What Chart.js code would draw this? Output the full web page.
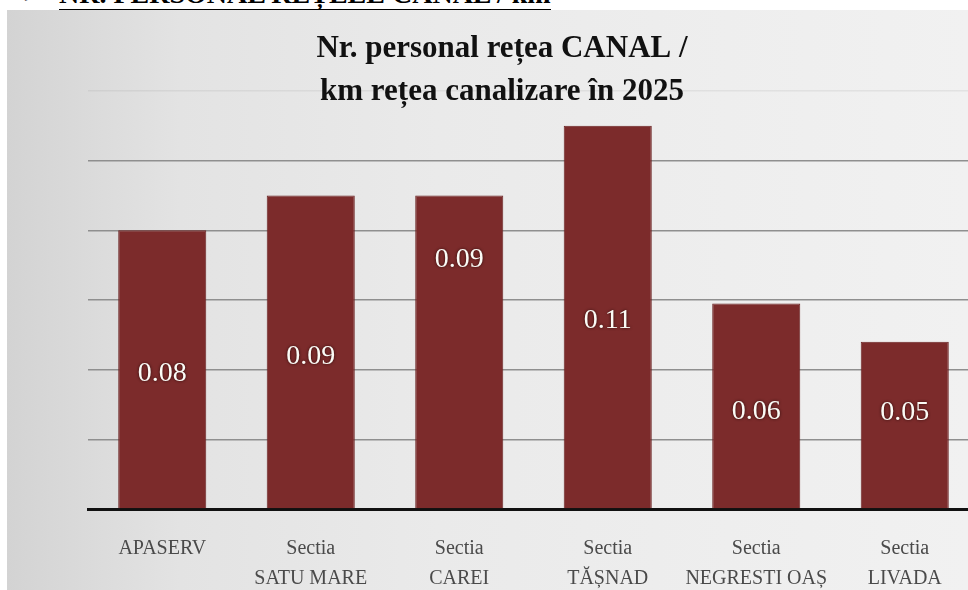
<!DOCTYPE html>
<html>
<head>
<meta charset="utf-8">
<script src="https://cdn.jsdelivr.net/npm/chart.js@4.4.1/dist/chart.umd.min.js"></script>
<style>
  html, body { margin: 0; padding: 0; background: #fff; width: 968px; height: 590px; overflow: hidden; }
  #heading {
    position: absolute; left: 22px; top: -23px; height: 26px; line-height: 26px;
    font: bold 28px "Liberation Serif", serif; color: #000; white-space: nowrap;
  }
  #heading span { border-bottom: 2.5px solid #000; margin-left: 14px; }
  #panel {
    position: absolute; left: 7px; top: 10px; width: 961px; height: 580px;
    background: linear-gradient(to right, #d3d3d3 0%, #e3e3e3 18%, #eaeaea 45%, #eeeeee 75%, #f1f1f1 100%);
  }
  #wrap { position: absolute; left: 0; top: 0; width: 990px; height: 619px; }
</style>
</head>
<body>
<div id="heading">&#10146;<span>NR. PERSONAL REȚELE CANAL / km</span></div>
<div id="panel"></div>
<div id="wrap"><canvas id="chart" width="990" height="619"></canvas></div>
<script>
// categories (multi-line labels)
const categories = [
  "APASERV",
  ["Sectia", "SATU MARE"],
  ["Sectia", "CAREI"],
  ["Sectia", "TĂȘNAD"],
  ["Sectia", "NEGRESTI OAȘ"],
  ["Sectia", "LIVADA"]
];
// personal / km retea canalizare
const values = [0.08, 0.09, 0.09, 0.11, 0.059, 0.048];
const titleLines = ["Nr. personal rețea CANAL /", "km rețea canalizare în 2025"];

// title drawn over the plot area, like in the original
const titlePlugin = {
  id: "overTitle",
  afterDraw(chart) {
    const ctx = chart.ctx;
    ctx.save();
    ctx.fillStyle = "#111";
    ctx.font = 'bold 31px "Liberation Serif", serif';
    ctx.textAlign = "center";
    ctx.textBaseline = "alphabetic";
    ctx.fillText(titleLines[0], 502, 57);
    ctx.fillText(titleLines[1], 502, 100);
    ctx.restore();
  }
};

// value labels inside the bars
const labelShift = [4, 5, -92, 4, 6, -12];
const barLabels = {
  id: "barLabels",
  afterDatasetsDraw(chart) {
    const ctx = chart.ctx;
    const meta = chart.getDatasetMeta(0);
    ctx.save();
    ctx.font = '28px "Liberation Serif", serif';
    ctx.textAlign = "center";
    ctx.textBaseline = "middle";
    ctx.fillStyle = "#fbfbf6";
    ctx.shadowColor = "rgba(20,0,0,0.8)";
    ctx.shadowBlur = 3;
    meta.data.forEach((bar, i) => {
      const y = (bar.y + bar.base) / 2 + labelShift[i];
      ctx.fillText(values[i].toFixed(2), bar.x, y);
    });
    ctx.restore();
  }
};

new Chart(document.getElementById("chart"), {
  type: "bar",
  data: {
    labels: categories,
    datasets: [{
      data: values,
      backgroundColor: "#7c2b2b",
      borderColor: "#6a2222",
      borderWidth: 1,
      barPercentage: 0.593,
      categoryPercentage: 1
    }]
  },
  options: {
    responsive: false,
    animation: false,
    layout: { padding: { left: 88, right: 11, top: 91, bottom: 0 } },
    plugins: {
      legend: { display: false },
      title: { display: false },
      tooltip: { enabled: false }
    },
    scales: {
      x: {
        grid: { display: false, drawTicks: false },
        border: { display: true, color: "#111", width: 3 },
        ticks: {
          color: "#4a4a4a",
          padding: 25,
          maxRotation: 0,
          autoSkip: false,
          font: { family: '"Liberation Serif", serif', size: 20, lineHeight: 1.5 }
        }
      },
      y: {
        min: 0,
        max: 0.12,
        ticks: { display: false, stepSize: 0.02 },
        border: { display: false },
        grid: {
          drawTicks: false,
          lineWidth: 1.5,
          color: (c) => c.tick && c.tick.value >= 0.12 ? "rgba(120,120,120,0.12)" : "#8f8f8f"
        }
      }
    }
  },
  plugins: [titlePlugin, barLabels]
});
</script>
</body>
</html>
